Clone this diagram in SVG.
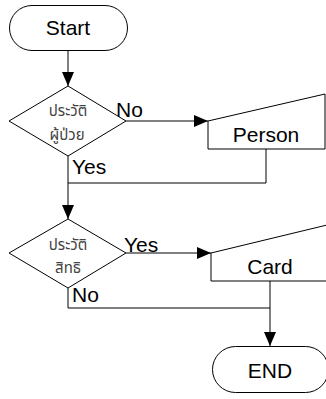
<svg xmlns="http://www.w3.org/2000/svg" width="326" height="399" viewBox="0 0 326 399">
  <defs>
    <marker id="arrow" markerUnits="userSpaceOnUse" markerWidth="14" markerHeight="12" refX="14" refY="6" orient="auto">
      <path d="M0,0 L14,6 L0,12 Z" fill="#000"/>
    </marker>
    <style>
      .shape { fill: #fff; stroke: #000; stroke-width: 1; }
      .conn { fill: none; stroke: #000; stroke-width: 1; }
      .lbl { font-family: "Liberation Sans", Arial, sans-serif; font-size: 21px; fill: #000; }
      .th { font-family: "Noto Sans Thai", "Noto Sans", "DejaVu Sans", sans-serif; font-size: 15px; fill: #444; text-anchor: middle; }
      .mid { text-anchor: middle; }
    </style>
  </defs>
  <rect width="326" height="399" fill="#fff"/>

  <!-- connectors -->
  <g id="connectors">
    <path class="conn" d="M68,50 V86" marker-end="url(#arrow)"/>
    <path class="conn" d="M126,121 H208" marker-end="url(#arrow)"/>
    <path class="conn" d="M266,149 V183 H68"/>
    <path class="conn" d="M68,156 V219" marker-end="url(#arrow)"/>
    <path class="conn" d="M126,253 H211" marker-end="url(#arrow)"/>
    <path class="conn" d="M68,288 V308 H270"/>
    <path class="conn" d="M270,281 V346" marker-end="url(#arrow)"/>
    <text class="lbl" x="116" y="117">No</text>
    <text class="lbl" x="72" y="174">Yes</text>
    <text class="lbl" x="124" y="252">Yes</text>
    <text class="lbl" x="72" y="302">No</text>
  </g>

  <g id="start">
    <rect class="shape" x="9.5" y="5.5" width="118" height="45" rx="22.5"/>
    <text class="lbl mid" x="68" y="35">Start</text>
  </g>

  <g id="decision-patient">
    <polygon class="shape" points="68,86 126,121 68,156 9,121"/>
    <text class="th" x="68" y="116">ประวัติ</text>
    <text class="th" x="67" y="140">ผู้ป่วย</text>
  </g>

  <g id="person">
    <polygon class="shape" points="208,121 325,94 325,149 208,149"/>
    <text class="lbl mid" x="266" y="142">Person</text>
  </g>

  <g id="decision-rights">
    <polygon class="shape" points="68,219 126,253 68,288 9,253"/>
    <text class="th" x="68" y="250">ประวัติ</text>
    <text class="th" x="68" y="273">สิทธิ</text>
  </g>

  <g id="card">
    <polygon class="shape" points="211,253 327,225 327,281 211,281"/>
    <text class="lbl mid" x="270" y="274">Card</text>
  </g>

  <g id="end">
    <rect class="shape" x="212.5" y="346.5" width="116" height="46" rx="23"/>
    <text class="lbl mid" x="270" y="378">END</text>
  </g>
</svg>
